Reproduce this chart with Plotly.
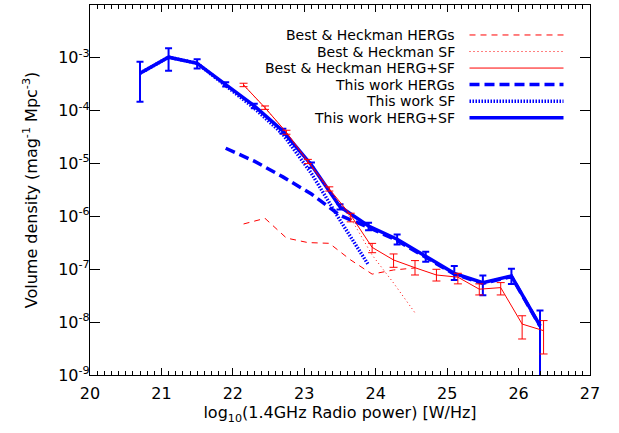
import plotly.graph_objects as go

# ---------------- data ----------------
# This work (HERG+SF total) with asymmetric errors
tw_x = [20.7, 21.1, 21.5, 21.9, 22.3, 22.7, 23.1, 23.5, 23.9, 24.3, 24.7, 25.1, 25.5, 25.9, 26.3]
tw_tot = [5.1e-4, 1.03e-3, 7.9e-4, 3.16e-4, 1.23e-4, 4.13e-5, 9.4e-6, 1.53e-6, 6.6e-7, 3.7e-7,
          1.73e-7, 8.4e-8, 5.6e-8, 7.5e-8, 8.6e-9]
tw_tot_hi = [8.45e-4, 1.52e-3, 9.4e-4, 3.47e-4, 1.35e-4, 4.57e-5, 1.05e-5, 1.7e-6, 7.6e-7, 4.57e-7,
             2.15e-7, 1.15e-7, 7.6e-8, 1.02e-7, 1.66e-8]
tw_tot_lo = [1.48e-4, 5.7e-4, 6.3e-4, 2.88e-4, 1.11e-4, 3.7e-5, 8.3e-6, 1.35e-6, 5.5e-7, 2.95e-7,
             1.39e-7, 6.3e-8, 3.24e-8, 5.25e-8, 1e-10]

tw_herg_x = [21.9, 22.3, 22.7, 23.1, 23.5, 23.9, 24.3, 24.7, 25.1, 25.5, 25.9, 26.3]
tw_herg = [1.95e-5, 1.11e-5, 5.6e-6, 2.65e-6, 1.05e-6, 6.2e-7, 3.5e-7, 1.65e-7, 8.1e-8, 5.4e-8, 7.3e-8, 8.4e-9]

tw_sf_x = [20.7, 21.1, 21.5, 21.9, 22.3, 22.7, 23.1, 23.5, 23.9]
tw_sf = [5.1e-4, 1.03e-3, 7.9e-4, 2.95e-4, 1.12e-4, 3.6e-5, 6.5e-6, 8.5e-7, 1.2e-7]

# Best & Heckman (2012)
bh_x = [22.15, 22.45, 22.75, 23.05, 23.35, 23.65, 23.95, 24.25, 24.55, 24.85, 25.15, 25.45, 25.75, 26.05, 26.35]
bh_tot = [3.07e-4, 1.14e-4, 3.9e-5, 1.1e-5, 3.3e-6, 1.06e-6, 2.6e-7, 1.5e-7, 1.07e-7, 7.8e-8,
          7.1e-8, 4.2e-8, 4.5e-8, 9.2e-9, 6.9e-9]
bh_tot_hi = [3.31e-4, 1.23e-4, 4.27e-5, 1.2e-5, 3.63e-6, 1.15e-6, 3.09e-7, 1.95e-7, 1.46e-7, 1.0e-7,
             8.4e-8, 5.3e-8, 5.6e-8, 1.32e-8, 1.07e-8]
bh_tot_lo = [2.85e-4, 1.06e-4, 3.59e-5, 1.0e-5, 3.02e-6, 7.9e-7, 2.06e-7, 1.09e-7, 7.8e-8, 6.0e-8,
             5.3e-8, 3.27e-8, 3.27e-8, 4.8e-9, 2.5e-9]

bh_part_x = [22.15, 22.45, 22.75, 23.05, 23.35, 23.65, 23.95, 24.25, 24.55]
bh_herg = [7.2e-7, 9.2e-7, 3.9e-7, 3.2e-7, 3.1e-7, 1.5e-7, 8.1e-8, 9.7e-8, 1.06e-7]
bh_sf = [3.06e-4, 1.13e-4, 3.86e-5, 1.07e-5, 3.0e-6, 9.3e-7, 1.86e-7, 5.5e-8, 1.5e-8]

x_ticks = [20, 21, 22, 23, 24, 25, 26, 27]
y_exps = [-9, -8, -7, -6, -5, -4, -3, -2]
y_ticks = [10.0 ** e for e in y_exps]
y_ticktext = ["10<sup>-%d</sup>" % (-e) for e in y_exps]

legend_labels = ["Best & Heckman HERGs", "Best & Heckman SF", "Best & Heckman HERG+SF",
                 "This work HERGs", "This work SF", "This work HERG+SF"]

# ---------------- styles ----------------
BLUE = "#0000FF"
RED = "#FF0000"
FONT = "DejaVu Sans"
styles = [
    dict(color=RED, width=1, dash="6px,5px"),
    dict(color=RED, width=1, dash="1px,3px"),
    dict(color=RED, width=1, dash="solid"),
    dict(color=BLUE, width=3.5, dash="10px,5px"),
    dict(color=BLUE, width=3.5, dash="1.5px,1.5px"),
    dict(color=BLUE, width=3.5, dash="solid"),
]


def errs(y, hi, lo):
    return [h - v for h, v in zip(hi, y)], [v - l for v, l in zip(y, lo)]


fig = go.Figure()

tp, tm = errs(tw_tot, tw_tot_hi, tw_tot_lo)
fig.add_trace(go.Scatter(x=tw_herg_x, y=tw_herg, mode="lines", line=styles[3], showlegend=False))
fig.add_trace(go.Scatter(x=tw_sf_x, y=tw_sf, mode="lines", line=styles[4], showlegend=False))
fig.add_trace(go.Scatter(x=tw_x, y=tw_tot, mode="lines", line=styles[5], showlegend=False,
                         error_y=dict(type="data", symmetric=False, array=tp, arrayminus=tm,
                                      color=BLUE, thickness=2, width=3.5)))

bp, bm = errs(bh_tot, bh_tot_hi, bh_tot_lo)
fig.add_trace(go.Scatter(x=bh_part_x, y=bh_herg, mode="lines", line=styles[0], showlegend=False))
fig.add_trace(go.Scatter(x=bh_part_x, y=bh_sf, mode="lines", line=styles[1], showlegend=False))
fig.add_trace(go.Scatter(x=bh_x, y=bh_tot, mode="lines", line=styles[2], showlegend=False,
                         error_y=dict(type="data", symmetric=False, array=bp, arrayminus=bm,
                                      color=RED, thickness=1, width=4)))

# legend drawn IDL-style: text on the left, line sample on the right
row_top = 0.919
row_step = 0.0447
for i, (lab, st) in enumerate(zip(legend_labels, styles)):
    yy = row_top - i * row_step
    fig.add_annotation(x=0.7334, y=yy, xref="paper", yref="paper", text=lab, showarrow=False,
                       xanchor="right", yanchor="middle",
                       font=dict(family=FONT, size=14, color="black"))
    fig.add_shape(type="line", xref="paper", yref="paper", x0=0.759, x1=0.947, y0=yy, y1=yy,
                  line=dict(color=st["color"], width=st["width"], dash=st["dash"]))

fig.update_layout(
    width=619, height=433, autosize=False,
    margin=dict(l=90, r=29, t=5, b=58),
    paper_bgcolor="white", plot_bgcolor="white",
    font=dict(family=FONT, size=15, color="black"),
    showlegend=False,
)
fig.update_xaxes(
    automargin=False,
    range=[20, 27], tickvals=x_ticks, ticktext=[str(v) for v in x_ticks],
    ticks="inside", ticklen=7, tickwidth=1, tickcolor="black",
    minor=dict(dtick=0.1, ticklen=3.5, ticks="inside", tickcolor="black", tickwidth=1),
    showline=True, mirror="ticks", linecolor="black", linewidth=1.2,
    showgrid=False, zeroline=False, tickfont=dict(size=16),
    ticklabelstandoff=4,
    title=dict(text="log<sub>10</sub>(1.4GHz Radio power) [W/Hz]", font=dict(size=16), standoff=2),
)
fig.update_yaxes(
    automargin=False,
    type="log", range=[-9, -2], tickvals=y_ticks, ticktext=y_ticktext,
    ticks="inside", ticklen=10, tickwidth=1, tickcolor="black",
    showline=True, mirror="ticks", linecolor="black", linewidth=1.2,
    showgrid=False, zeroline=False, tickfont=dict(size=16),
    ticklabelstandoff=-4,
    title=dict(text="Volume density (mag<sup>-1</sup> Mpc<sup>-3</sup>)", font=dict(size=16), standoff=16),
)

fig.write_html("out.html", config={"displayModeBar": False},
               post_script="document.body.style.margin='0';")
